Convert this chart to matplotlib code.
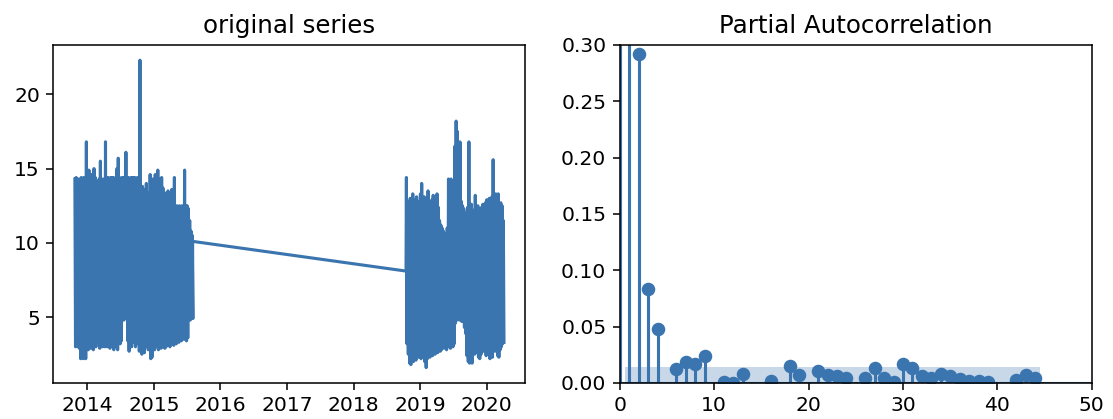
import matplotlib
matplotlib.use("Agg")
import numpy as np
import pandas as pd
import matplotlib.pyplot as plt

blue = "#3b75af"

# weekly high / low envelope of the series
block1_start = "2013-10-24"
block1_high = [14.3, 14.4, 14.1, 14.3, 13.8, 14.4, 14.2, 14.4, 14.0, 16.8,
               13.9, 14.9, 14.2, 14.6, 13.0, 15.0, 14.4, 14.1, 13.5, 14.3,
               15.5, 12.8, 14.3, 14.1, 16.8, 14.4, 14.4, 14.3, 14.4, 14.4,
               14.4, 14.3, 14.4, 15.0, 15.7, 14.4, 14.3, 14.4, 14.4, 14.4,
               16.1, 14.4, 14.4, 14.3, 14.4, 14.4, 14.4, 14.4, 14.3, 14.4,
               14.4, 22.3, 13.2, 13.8, 12.5, 13.6, 14.0, 13.4, 12.8, 14.6,
               13.9, 14.3, 13.0, 14.6, 14.1, 14.9, 14.3, 13.3, 14.4, 13.7,
               13.4, 13.0, 12.3, 13.5, 12.7, 12.0, 13.6, 12.4, 14.4, 12.2,
               12.5, 11.9, 12.5, 12.0, 12.5, 12.2, 14.9, 12.5, 12.5, 12.3,
               11.5, 10.8, 10.5]
block1_low = [3.0, 3.1, 3.0, 2.9, 2.2, 2.3, 2.2, 2.4, 2.2, 3.0,
              2.8, 3.1, 2.9, 3.2, 2.8, 3.3, 3.0, 3.4, 3.3, 2.9,
              3.3, 3.0, 3.2, 3.0, 3.1, 3.0, 3.4, 2.9, 3.2, 3.0,
              2.8, 3.3, 3.0, 2.8, 3.5, 3.2, 3.4, 4.9, 4.8, 5.0,
              4.9, 3.4, 2.7, 3.4, 3.0, 3.3, 3.6, 3.0, 3.4, 3.2,
              2.7, 3.0, 2.5, 2.9, 2.6, 3.0, 3.1, 2.8, 3.0, 2.2,
              2.3, 3.0, 2.8, 3.1, 3.0, 2.8, 3.2, 2.9, 3.0, 3.1,
              2.9, 3.0, 3.3, 3.1, 3.0, 3.2, 3.4, 3.1, 3.3, 3.2,
              3.5, 3.3, 3.6, 3.4, 3.6, 3.5, 3.7, 3.4, 3.6, 4.9,
              4.8, 5.0, 4.9]
block1_last = ("2015-08-01", 10.1)

block2_first = ("2018-10-15", 8.1)
block2_start = "2018-10-17"
block2_high = [14.4, 12.8, 12.5, 13.0, 12.6, 13.3, 12.9, 12.6, 13.1, 12.7,
               12.8, 13.3, 14.0, 12.9, 13.1, 12.6, 13.0, 13.5, 12.8, 12.5,
               12.9, 13.2, 12.6, 12.9, 13.3, 12.4, 11.5, 11.2, 11.0, 10.8,
               10.6, 10.3, 11.0, 14.3, 13.9, 14.3, 11.0, 10.9, 16.5, 18.2,
               17.5, 13.5, 16.8, 12.8, 12.5, 12.3, 12.0, 11.8, 12.4, 16.8,
               12.5, 12.6, 9.5, 12.2, 13.2, 12.2, 12.5, 12.3, 12.0, 12.4,
               12.6, 12.3, 12.7, 12.9, 12.5, 13.0, 12.8, 13.1, 15.6, 12.9,
               13.3, 13.2, 13.3, 12.6, 12.7, 12.5, 11.5]
block2_low = [3.2, 2.5, 1.9, 1.8, 2.2, 2.0, 2.4, 2.1, 2.6, 2.3,
              2.5, 2.2, 2.7, 2.4, 2.0, 1.6, 2.2, 2.5, 2.3, 2.8,
              2.4, 2.7, 2.5, 2.9, 2.6, 3.0, 2.7, 2.8, 3.0, 2.9,
              3.0, 2.8, 3.1, 3.0, 2.9, 3.1, 3.0, 3.2, 4.6, 4.8,
              4.9, 4.8, 5.0, 4.7, 4.9, 4.3, 3.9, 2.4, 2.0, 1.9,
              2.2, 1.9, 2.8, 2.5, 2.8, 2.6, 2.3, 2.2, 2.5, 2.8,
              2.7, 2.9, 2.4, 2.6, 2.8, 2.2, 2.5, 2.3, 2.9, 2.7,
              3.0, 2.4, 2.3, 2.8, 3.0, 3.2, 3.3]

# partial autocorrelation, lags 0..44
pacf_vals = [1.0, 0.95, 0.292, 0.083, 0.048, -0.012, 0.012, 0.019, 0.017, 0.024,
             -0.008, 0.0005, 0.0003, 0.008, -0.006, -0.007, 0.002, -0.006, 0.015, 0.007,
             -0.006, 0.011, 0.0075, 0.006, 0.0045, -0.006, 0.0045, 0.0135, 0.0045, 0.0005,
             0.017, 0.0135, 0.006, 0.0045, 0.0078, 0.006, 0.0035, 0.002, 0.002, 0.0005,
             -0.006, -0.007, 0.003, 0.0068, 0.0045]
conf_band = 0.0139


def zigzag(start, highs, lows):
    weeks = pd.date_range(start, periods=len(highs), freq="7D")
    dates, vals = [], []
    for d, h, l in zip(weeks, highs, lows):
        dates += [d, d + pd.Timedelta(hours=84)]
        vals += [h, l]
    return dates, vals


d1, v1 = zigzag(block1_start, block1_high, block1_low)
d2, v2 = zigzag(block2_start, block2_high, block2_low)
dates = d1 + [pd.Timestamp(block1_last[0]), pd.Timestamp(block2_first[0])] + d2
vals = v1 + [block1_last[1], block2_first[1]] + v2
series = pd.Series(vals, index=pd.DatetimeIndex(dates))

plt.rcParams["xtick.labelsize"] = 10.5
plt.rcParams["ytick.labelsize"] = 10.5
plt.rcParams["axes.titlesize"] = 12.7

fig, (ax1, ax2) = plt.subplots(1, 2, figsize=(8, 3.0117))
fig.subplots_adjust(left=0.048, right=0.981, bottom=0.086, top=0.893, wspace=0.2)

ax1.plot(series.index, series.values, color=blue, lw=1.6)
ax1.set_title("original series")

lags = np.arange(len(pacf_vals))
ax2.vlines(lags, 0, pacf_vals, colors=blue, lw=1.6)
ax2.plot(lags, pacf_vals, "o", color=blue, ms=6)
ax2.axhline(0, color=blue, lw=1.6)
ax2.fill_between([0.5, lags[-1] + 0.5], -conf_band, conf_band, color=blue, alpha=0.28, lw=0)
ax2.set_xlim(0, 50)
ax2.set_ylim(0, 0.30)
ax2.set_title("Partial Autocorrelation")

fig.savefig("out.png", dpi=139.125)
